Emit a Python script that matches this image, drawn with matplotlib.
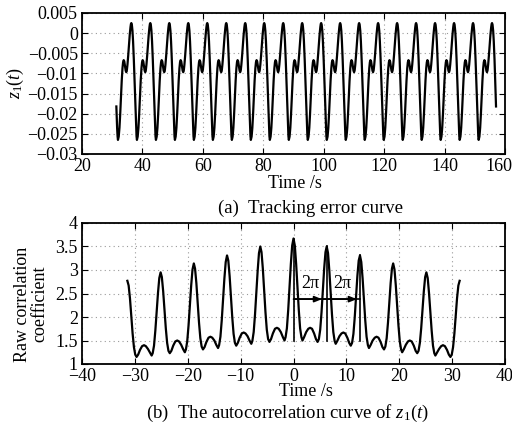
"""Tracking error z1(t) and its raw autocorrelation, two stacked panels."""

import matplotlib
import numpy as np

matplotlib.use("Agg")
import matplotlib.pyplot as plt
from matplotlib.ticker import FuncFormatter
from matplotlib.transforms import ScaledTranslation


FIG_W_PX = 512
FIG_H_PX = 425

# --- panel (a): one cycle of z1(t), read relative to each trough -----------
TROUGH_TIMES_S = [25.62, 31.90, 38.18, 44.47, 50.75, 57.03, 63.32, 69.60, 75.88,
                  82.17, 88.45, 94.73, 101.02, 107.30, 113.58, 119.87, 126.15,
                  132.43, 138.72, 145.00, 151.28]
CYCLE_OFFSET_S = [0.00, 0.25, 0.50, 0.75, 1.00, 1.25, 1.50, 1.70, 1.90, 2.10,
                  2.35, 2.55, 2.75, 2.95, 3.15, 3.40, 3.65, 3.90, 4.15, 4.30,
                  4.43, 4.60, 4.80, 5.00, 5.25, 5.50, 5.75, 6.00, 6.15]
CYCLE_Z = [-0.0265, -0.0257, -0.0235, -0.0200, -0.0158, -0.0118, -0.0087,
           -0.0072, -0.0067, -0.0070, -0.0082, -0.0093, -0.0097, -0.0092,
           -0.0078, -0.0055, -0.0028, -0.0004, 0.0015, 0.0023, 0.0025, 0.0021,
           0.0006, -0.0020, -0.0065, -0.0120, -0.0182, -0.0235, -0.0256]
T_START_S = 31.35
T_END_S = 157.08

TOP_XTICKS = [20, 40, 60, 80, 100, 120, 140, 160]
TOP_YTICKS = [-0.03, -0.025, -0.02, -0.015, -0.01, -0.005, 0, 0.005]

# --- panel (b): raw autocorrelation, positive lags (curve is symmetric) -----
PEAK_LAGS_S = [0.0, 6.28, 12.57, 18.85, 25.13]
PERIOD_OFFSET_S = [0.00, 0.25, 0.50, 0.75, 1.00, 1.25, 1.50, 1.70, 2.00, 2.40,
                   2.80, 3.14, 3.50, 3.90, 4.25, 4.55, 4.80, 5.05, 5.30, 5.55,
                   5.80, 6.05]
ACF_PERIOD_0 = [3.67, 3.52, 3.13, 2.63, 2.15, 1.76, 1.57, 1.50, 1.57, 1.68, 1.75,
                1.77, 1.75, 1.65, 1.53, 1.47, 1.53, 1.73, 2.10, 2.57, 3.03, 3.38]
ACF_PERIOD_1 = [3.50, 3.36, 2.98, 2.51, 2.05, 1.68, 1.49, 1.43, 1.49, 1.59, 1.65,
                1.67, 1.65, 1.56, 1.45, 1.39, 1.45, 1.64, 1.99, 2.43, 2.87, 3.20]
ACF_PERIOD_2 = [3.31, 3.17, 2.82, 2.36, 1.93, 1.58, 1.40, 1.34, 1.40, 1.50, 1.56,
                1.58, 1.56, 1.47, 1.36, 1.31, 1.37, 1.55, 1.88, 2.30, 2.72, 3.03]
ACF_PERIOD_3 = [3.14, 3.01, 2.67, 2.23, 1.82, 1.48, 1.31, 1.25, 1.31, 1.41, 1.48,
                1.50, 1.48, 1.39, 1.28, 1.23, 1.28, 1.45, 1.76, 2.16, 2.55, 2.85]
ACF_PERIOD_4 = [2.95, 2.83, 2.51, 2.10, 1.71, 1.39, 1.23, 1.18, 1.24, 1.32, 1.38,
                1.40, 1.38, 1.30, 1.20, 1.15, 1.20, 1.36, 1.65, 2.03, 2.40, 2.67]
END_LAG_S = 31.42
END_ACF = 2.77

BOTTOM_XTICKS = [-40, -30, -20, -10, 0, 10, 20, 30, 40]
BOTTOM_YTICKS = [1, 1.5, 2, 2.5, 3, 3.5, 4]

# 2*pi markers on panel (b)
MARK_PEAK_INDEX = [0, 1, 2]
MARK_BASE = 1.5
ARROW_Y = 2.38
ARROW_HEADS_S = [5.4, 12.0]
LABEL_LAGS_S = [3.1, 9.2]
LABEL_Y = 2.72


def px(x_px: float, y_px: float) -> tuple[float, float]:
    """像素坐标 -> figure 分数坐标。"""
    return x_px / FIG_W_PX, 1.0 - y_px / FIG_H_PX


def axes_rect(left: float, top: float, right: float, bottom: float) -> list[float]:
    return [left / FIG_W_PX, 1.0 - bottom / FIG_H_PX,
            (right - left) / FIG_W_PX, (bottom - top) / FIG_H_PX]


def tick_text(value, _pos):
    return f"{value:g}".replace("-", "\u2212")


def style_axes(ax) -> None:
    ax.tick_params(direction="in", top=True, right=True, length=4, width=0.8,
                   labelsize=13, pad=3)
    for spine in ax.spines.values():
        spine.set_linewidth(1.3)
    ax.grid(True, linestyle=(0, (1, 3)), color="#9a9a9a", linewidth=0.8)
    ax.set_axisbelow(True)
    ax.xaxis.set_major_formatter(FuncFormatter(tick_text))
    ax.yaxis.set_major_formatter(FuncFormatter(tick_text))


def build_tracking_error() -> tuple[np.ndarray, np.ndarray]:
    t_parts, z_parts = [], []
    for t0 in TROUGH_TIMES_S:
        t_parts.append(t0 + np.asarray(CYCLE_OFFSET_S))
        z_parts.append(np.asarray(CYCLE_Z))
    t = np.concatenate(t_parts)
    z = np.concatenate(z_parts)
    keep = (t >= T_START_S) & (t <= T_END_S)
    return t[keep], z[keep]


def build_autocorrelation() -> tuple[np.ndarray, np.ndarray]:
    periods = [ACF_PERIOD_0, ACF_PERIOD_1, ACF_PERIOD_2, ACF_PERIOD_3, ACF_PERIOD_4]
    lag_pos = [p + np.asarray(PERIOD_OFFSET_S) for p in PEAK_LAGS_S]
    lag_pos = np.concatenate(lag_pos + [np.array([END_LAG_S])])
    acf_pos = np.concatenate([np.asarray(v) for v in periods] + [np.array([END_ACF])])
    lag = np.concatenate([-lag_pos[:0:-1], lag_pos])
    acf = np.concatenate([acf_pos[:0:-1], acf_pos])
    return lag, acf


def main() -> None:
    plt.rcParams["font.family"] = ["Liberation Serif", "DejaVu Serif"]
    plt.rcParams["mathtext.fontset"] = "custom"
    plt.rcParams["mathtext.rm"] = "Liberation Serif"
    plt.rcParams["mathtext.it"] = "Liberation Serif:italic"
    plt.rcParams["axes.unicode_minus"] = True

    fig = plt.figure(figsize=(FIG_W_PX / 100, FIG_H_PX / 100), dpi=100)

    # (a) tracking error
    ax1 = fig.add_axes(axes_rect(82, 13, 505, 154))
    t, z = build_tracking_error()
    ax1.plot(t, z, color="black", linewidth=1.6)
    ax1.set_xlim(20, 160)
    ax1.set_ylim(-0.03, 0.005)
    ax1.set_xticks(TOP_XTICKS)
    ax1.set_yticks(TOP_YTICKS)
    style_axes(ax1)
    # last x label sits a little inside the frame, as in the source figure
    last = ax1.get_xticklabels()[-1]
    last.set_transform(last.get_transform() + ScaledTranslation(-6 / 100, 0, fig.dpi_scale_trans))

    # (b) autocorrelation
    ax2 = fig.add_axes(axes_rect(82, 223, 505, 364))
    lag, acf = build_autocorrelation()
    ax2.plot(lag, acf, color="black", linewidth=1.6)
    ax2.set_xlim(-40, 40)
    ax2.set_ylim(1, 4)
    ax2.set_xticks(BOTTOM_XTICKS)
    ax2.set_yticks(BOTTOM_YTICKS)
    style_axes(ax2)

    peak_periods = [ACF_PERIOD_0, ACF_PERIOD_1, ACF_PERIOD_2]
    for k in MARK_PEAK_INDEX:
        ax2.plot([PEAK_LAGS_S[k], PEAK_LAGS_S[k]], [MARK_BASE, peak_periods[k][0]],
                 color="black", linewidth=1.2)
    ax2.plot([PEAK_LAGS_S[0], PEAK_LAGS_S[2]], [ARROW_Y, ARROW_Y],
             color="black", linewidth=1.2)
    starts = [PEAK_LAGS_S[0], ARROW_HEADS_S[0]]
    for x0, x1 in zip(starts, ARROW_HEADS_S):
        ax2.annotate("", xy=(x1, ARROW_Y), xytext=(x0, ARROW_Y),
                     arrowprops=dict(arrowstyle="-|>,head_length=0.45,head_width=0.18",
                                     color="black", lw=1.2, shrinkA=0, shrinkB=0))
    for x in LABEL_LAGS_S:
        ax2.text(x, LABEL_Y, "2\u03c0", ha="center", va="center", fontsize=13)

    # labels and captions
    fig.text(*px(15, 83), "$z_1(t)$", rotation=90, ha="center", va="center", fontsize=13)
    fig.text(*px(31, 304), "Raw correlation\ncoefficient", rotation=90, ha="center",
             va="center", multialignment="center", fontsize=13, linespacing=1.0)
    fig.text(*px(295, 183), "Time /s", ha="center", va="center", fontsize=13)
    fig.text(*px(218, 208), "(a)  Tracking error curve", ha="left", va="center",
             fontsize=13.5)
    fig.text(*px(306, 392), "Time /s", ha="center", va="center", fontsize=13)
    fig.text(*px(287.5, 413), "(b)  The autocorrelation curve of $z_1(t)$",
             ha="center", va="center", fontsize=13.5)

    fig.savefig("out.png", dpi=100)
    plt.close(fig)


if __name__ == "__main__":
    main()
